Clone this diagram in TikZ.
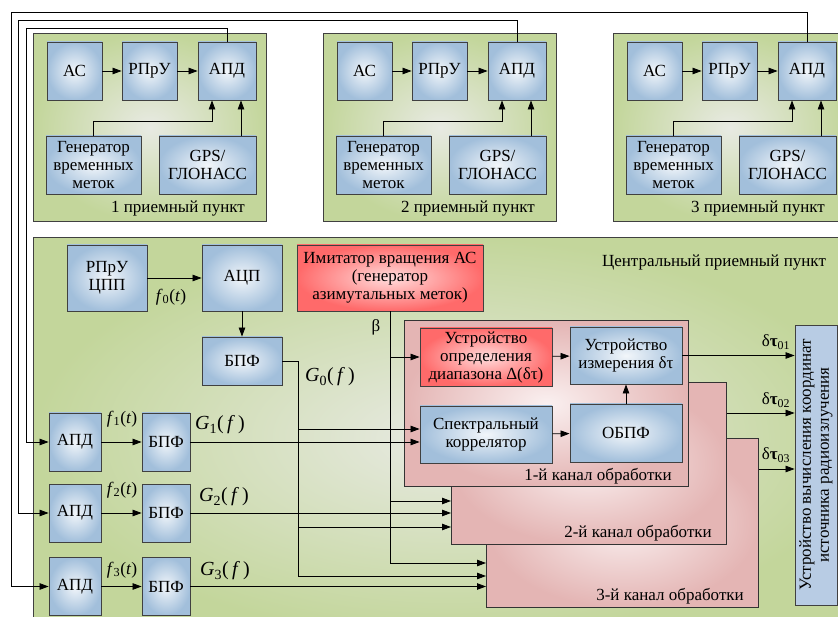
\documentclass[tikz,border=0pt]{standalone}
\usepackage{fontspec}
\setmainfont{Liberation Serif}
\newfontfamily\diagfont{Liberation Serif}
\usetikzlibrary{arrows.meta}
\definecolor{boxout}{HTML}{A2BFDB}
\definecolor{boxin}{HTML}{F2F6FA}
\definecolor{panout}{HTML}{C3D69B}
\definecolor{panin}{HTML}{E8EAE3}
\definecolor{redout}{HTML}{FF6A6A}
\definecolor{redin}{HTML}{FFDCDC}
\definecolor{chout}{HTML}{E4B5B4}
\definecolor{chin}{HTML}{FAF0F0}
\definecolor{calcfill}{HTML}{B8CCE4}
\begin{document}
\begin{tikzpicture}[x=1pt,y=-1pt,
  every node/.style={font=\diagfont\fontsize{17}{18}\selectfont, inner sep=1pt},
  box/.style={draw=black!75, line width=0.9pt, inner color=boxin, outer color=boxout, align=center},
  redbox/.style={draw=black!75, line width=0.9pt, inner color=redin, outer color=redout, align=center},
  panel/.style={draw=black!75, line width=0.9pt, inner color=panin, outer color=panout, anchor=north west},
  chan/.style={draw=black!80, line width=0.9pt, inner color=chin, outer color=chout, anchor=north west},
  wire/.style={line width=0.8pt, draw=black},
  arr/.style={wire, -{Triangle[length=9pt,width=6.5pt]}},
  flab/.style={font=\diagfont\fontsize{17.5}{18}\selectfont},
  glab/.style={font=\diagfont\fontsize{20}{22}\selectfont}
]
\useasboundingbox (0,0) rectangle (838,617);
\clip (0,0) rectangle (838,617);
\fill[white] (0,0) rectangle (838,617);

% ---------- receiving stations ----------
\foreach \i/\dx in {1/0, 2/290, 3/580}{
  \begin{scope}[xshift=\dx]
    \node[panel, minimum width=233, minimum height=188] (st\i) at (33,33) {};
    \node[box, minimum width=55, minimum height=58] (ac\i) at (74.5,71) {АС};
    \node[box, minimum width=55, minimum height=58] (rp\i) at (149.5,71) {РПрУ};
    \node[box, minimum width=58, minimum height=58] (apd\i) at (227,71) {АПД};
    \node[box, minimum width=95, minimum height=58] (gen\i) at (93.5,165) {Генератор\\временных\\меток};
    \node[box, minimum width=97, minimum height=58] (gps\i) at (207.5,165) {GPS/\\ГЛОНАСС};
    \node[anchor=base] (stl\i) at (178,213) {\i~приемный пункт};
    \draw[arr] (ac\i) -- (rp\i);
    \draw[arr] (rp\i) -- (apd\i);
    \draw[arr] (gen\i.north) |- (212,121) -- (apd\i.south -| 212,0);
    \draw[arr] (gps\i.north -| 241,0) -- (apd\i.south -| 241,0);
  \end{scope}
}

% ---------- central station ----------
\node[panel, minimum width=830, minimum height=400] (cp) at (33,237) {};
\node (cpl) at (714,263) {Центральный приемный пункт};

\node[box, minimum width=80, minimum height=66] (rp0) at (107,278) {РПрУ\\ЦПП};
\node[box, minimum width=80, minimum height=66] (adc) at (242,278) {АЦП};
\node[box, minimum width=80, minimum height=48] (fft0) at (242,361) {БПФ};
\node[redbox, minimum width=186, minimum height=66] (imit) at (390,278) {Имитатор вращения АС\\(генератор\\азимутальных меток)};
\node[flab] (f0) at (171,297) {\textit{f}\textsubscript{0}(\textit{t})};
\node (beta) at (376,327) {β};
\node[glab] (g0) at (330,377) {\textit{G}\textsubscript{0}(\,\textit{f}\,)};

% processing channels
\node[chan, minimum width=272, minimum height=169] (ch3) at (486,438) {};
\node[anchor=base east] (ch3l) at (745,600) {3-й канал обработки};
\node[chan, minimum width=275, minimum height=162] (ch2) at (451,382) {};
\node[anchor=base east] (ch2l) at (713,537) {2-й канал обработки};
\node[chan, minimum width=284, minimum height=166] (ch1) at (404,320) {};
\node[anchor=base east] (ch1l) at (673,480) {1-й канал обработки};

\node[redbox, minimum width=132, minimum height=58] (det) at (486,357) {Устройство\\определения\\диапазона Δ(δτ)};
\node[box, minimum width=112, minimum height=57] (meas) at (626,355.5) {Устройство\\измерения δτ};
\node[box, minimum width=132, minimum height=57] (corr) at (486,434.5) {Спектральный\\коррелятор};
\node[box, minimum width=112, minimum height=58] (obpf) at (626,433) {ОБПФ};

\node[draw=black!75, line width=0.9pt, fill=calcfill, minimum width=42, minimum height=280] (calc) at (816,465) {};
\node[rotate=90, align=center] (calct) at (calc.center) {Устройство вычисления координат\\источника радиоизлучения};

% left APD / FFT chains
\foreach \k/\yy/\fy/\gx/\gy in {1/442/419/220/425, 2/513/490/224/497, 3/586.5/570/225/571}{
  \node[box, minimum width=52, minimum height=58] (lapd\k) at (75,\yy) {АПД};
  \node[box, minimum width=48, minimum height=58] (fft\k) at (166,\yy) {БПФ};
  \draw[arr] (lapd\k) -- (fft\k);
  \node[flab] (fl\k) at (122,\fy) {\textit{f}\textsubscript{\k}(\textit{t})};
  \node[glab] (gl\k) at (\gx,\gy) {\textit{G}\textsubscript{\k}(\,\textit{f}\,)};
}

% links from stations to central APDs
\draw[arr] (apd1.north) |- (26,28) |- (lapd1.west);
\draw[arr] (apd2.north) |- (18,20) |- (lapd2.west);
\draw[arr] (apd3.north) |- (11,12) |- (lapd3.west);

% central wiring
\draw[arr] (rp0) -- (adc);
\draw[arr] (adc) -- (fft0);
\draw[arr] (fft0.east) -| (298,576) -- (ch3.west |- 0,576);
\draw[arr] (298,429) -- (corr.west |- 0,429);
\draw[arr] (298,527) -- (ch2.west |- 0,527);
\draw[arr] (imit.south) -- (imit.south |- 0,563) -- (ch3.west |- 0,563);
\draw[arr] (390,357) -- (det.west);
\draw[arr] (390,501) -- (ch2.west |- 0,501);
\draw[arr] (fft1.east) -- (corr.west |- fft1.east);
\draw[arr] (fft2.east) -- (ch2.west |- fft2.east);
\draw[arr] (fft3.east) -- (ch3.west |- fft3.east);

\draw[arr] (det) -- (meas);
\draw[arr] (corr) -- (obpf);
\draw[arr] (obpf) -- (meas);

\draw[arr] (meas.east) -- (calc.west |- meas.east);
\draw[arr] (ch2.east |- 0,413) -- (calc.west |- 0,413);
\draw[arr] (ch3.east |- 0,469) -- (calc.west |- 0,469);
\node (dt1) at (776,342) {δ\textbf{τ}\textsubscript{01}};
\node (dt2) at (776,400) {δ\textbf{τ}\textsubscript{02}};
\node (dt3) at (776,455) {δ\textbf{τ}\textsubscript{03}};
\end{tikzpicture}
\end{document}
